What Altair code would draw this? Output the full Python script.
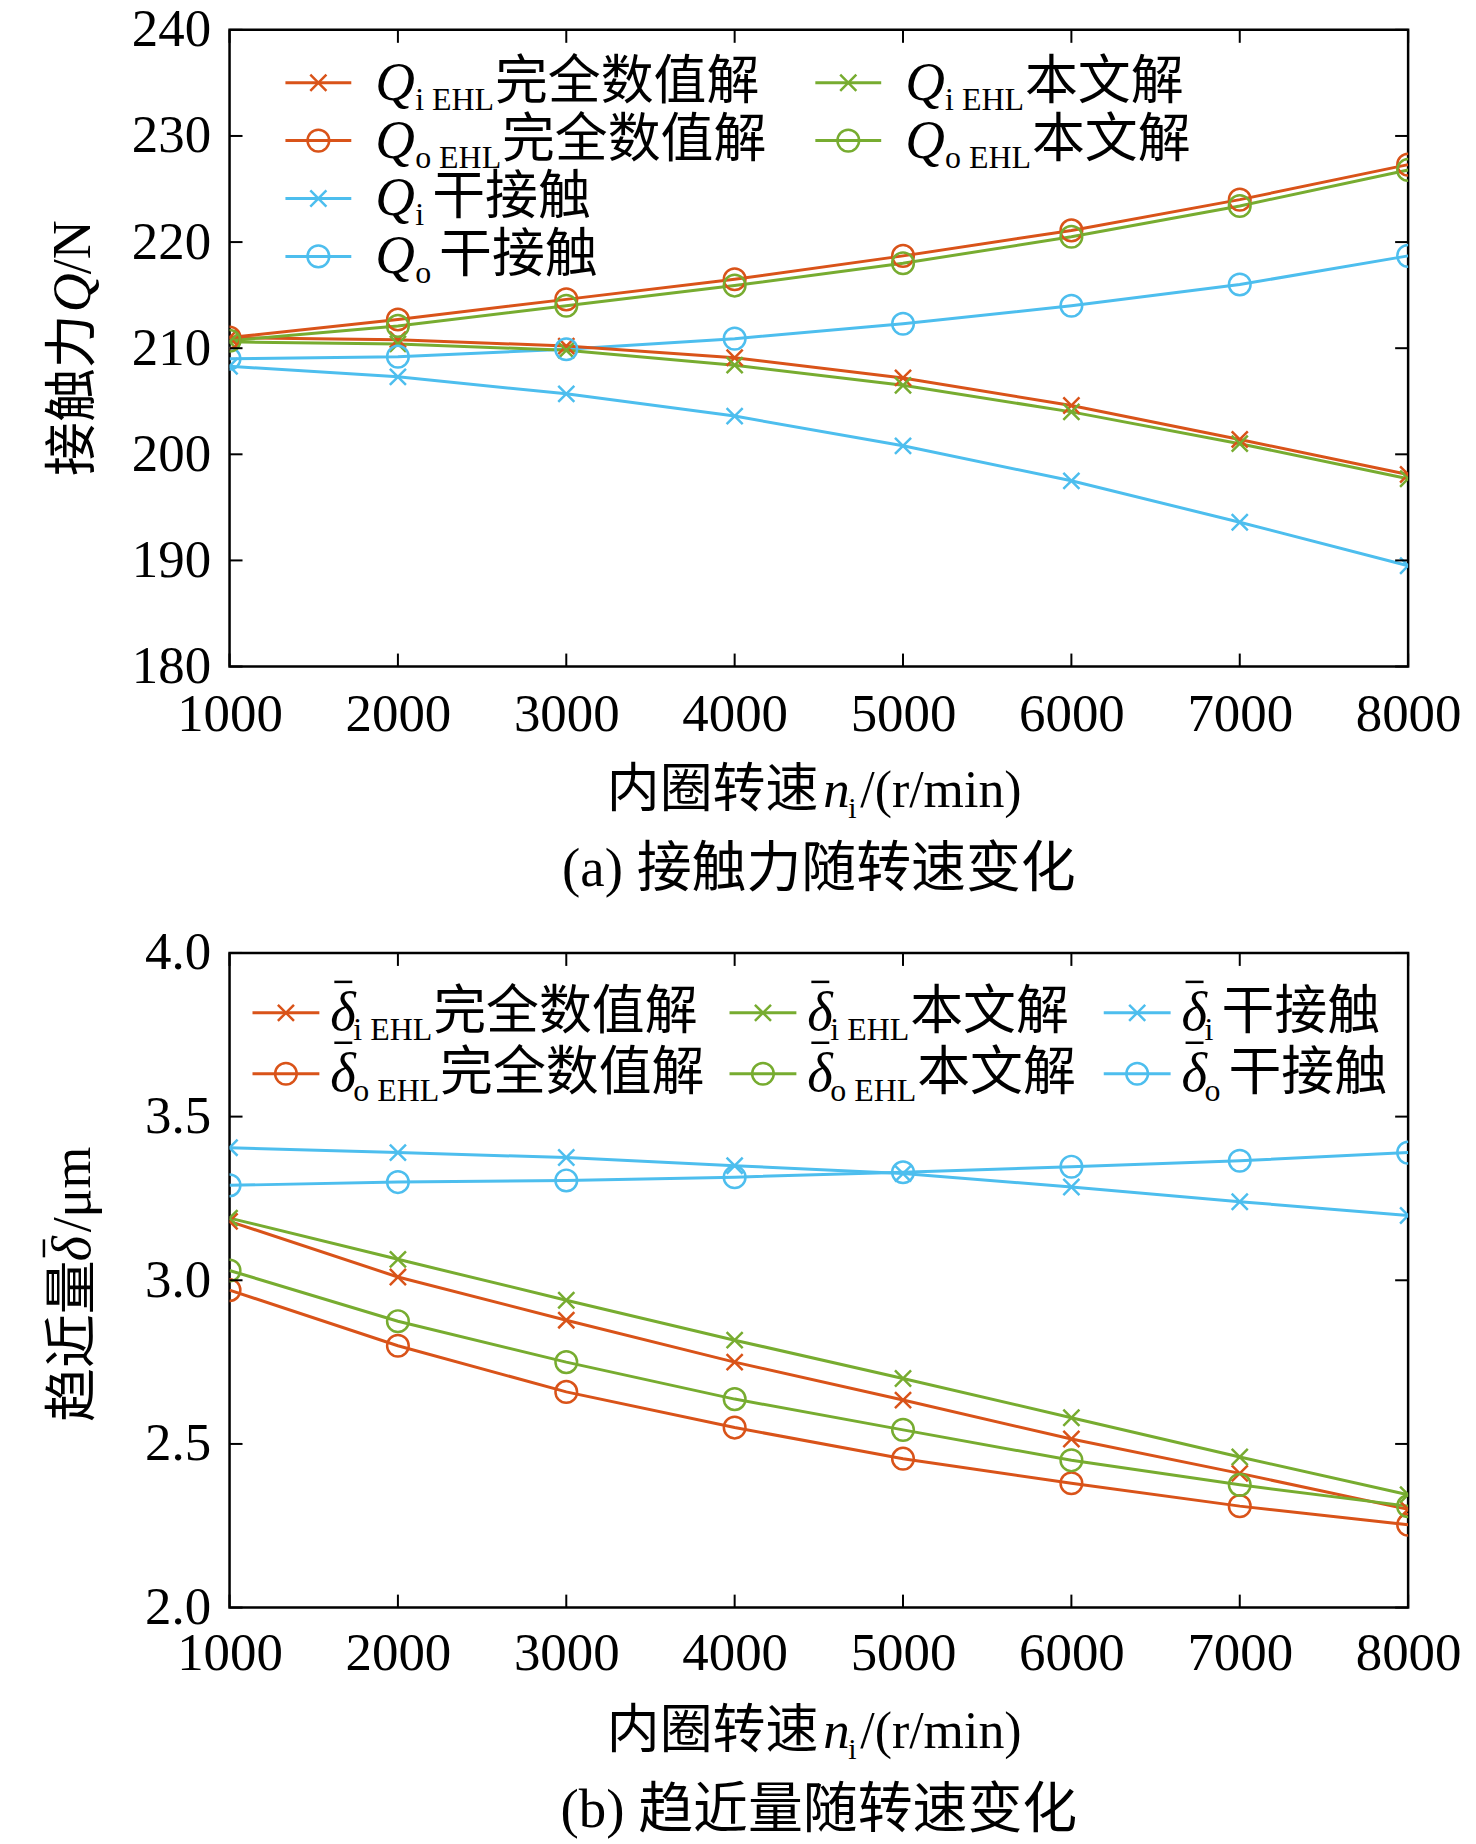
import altair as alt
import pandas as pd

# ---------------- data ----------------
speed = [1000, 2000, 3000, 4000, 5000, 6000, 7000, 8000]

# (a) contact force Q / N
qi_ehl_full = [211.0, 210.8, 210.2, 209.1, 207.2, 204.6, 201.4, 198.1]
qo_ehl_full = [211.0, 212.7, 214.6, 216.5, 218.7, 221.1, 224.0, 227.3]
qi_ehl_this = [210.6, 210.4, 209.8, 208.4, 206.5, 204.0, 201.0, 197.7]
qo_ehl_this = [210.7, 212.1, 214.0, 215.9, 218.0, 220.5, 223.4, 226.8]
qi_dry = [208.3, 207.3, 205.7, 203.6, 200.8, 197.5, 193.6, 189.5]
qo_dry = [209.0, 209.2, 209.9, 210.9, 212.3, 214.0, 216.0, 218.7]

# (b) approach delta / um
di_ehl_full = [3.18, 3.01, 2.878, 2.75, 2.634, 2.515, 2.41, 2.30]
do_ehl_full = [2.97, 2.80, 2.659, 2.55, 2.455, 2.38, 2.31, 2.253]
di_ehl_this = [3.19, 3.064, 2.939, 2.817, 2.70, 2.58, 2.46, 2.345]
do_ehl_this = [3.03, 2.875, 2.75, 2.637, 2.543, 2.45, 2.375, 2.31]
di_dry = [3.405, 3.39, 3.375, 3.35, 3.326, 3.285, 3.24, 3.198]
do_dry = [3.29, 3.30, 3.305, 3.315, 3.33, 3.347, 3.365, 3.39]

yticks_a = [180, 190, 200, 210, 220, 230, 240]
yticks_b = [2.0, 2.5, 3.0, 3.5, 4.0]

# text pieces
lab_full = "完全数值解"
lab_this = "本文解"
lab_dry = "干接触"
xtitle_cjk = "内圈转速"
xtitle_rest = "/(r/min)"
caption_a = "(a) 接触力随转速变化"
caption_b = "(b) 趋近量随转速变化"
ytitle_a = ("接触力", "Q", "/N")
ytitle_b = ("趋近量", "δ", "/μm")

# ---------------- styles ----------------
FONT = "Liberation Serif, Noto Sans CJK SC"
RED, GREEN, BLUE = "#D95319", "#77AC30", "#4DBEEE"
XPATH = "M-1,-1L1,1M-1,1L1,-1"
W = 1181
HA, HB = 638, 656
SUBW = {"i EHL": 80, "o EHL": 87, "i": 17, "o": 24}
ONE = pd.DataFrame({"k": [0]})
XSIZE, OSIZE = 260, 470

series_a = [
    ("Qi_dry", qi_dry, BLUE, "x", "Q", "i", lab_dry, 0, 2),
    ("Qo_dry", qo_dry, BLUE, "o", "Q", "o", lab_dry, 0, 3),
    ("Qi_full", qi_ehl_full, RED, "x", "Q", "i EHL", lab_full, 0, 0),
    ("Qo_full", qo_ehl_full, RED, "o", "Q", "o EHL", lab_full, 0, 1),
    ("Qi_this", qi_ehl_this, GREEN, "x", "Q", "i EHL", lab_this, 1, 0),
    ("Qo_this", qo_ehl_this, GREEN, "o", "Q", "o EHL", lab_this, 1, 1),
]
series_b = [
    ("di_dry", di_dry, BLUE, "x", "δ", "i", lab_dry, 2, 0),
    ("do_dry", do_dry, BLUE, "o", "δ", "o", lab_dry, 2, 1),
    ("di_full", di_ehl_full, RED, "x", "δ", "i EHL", lab_full, 0, 0),
    ("do_full", do_ehl_full, RED, "o", "δ", "o EHL", lab_full, 0, 1),
    ("di_this", di_ehl_this, GREEN, "x", "δ", "i EHL", lab_this, 1, 0),
    ("do_this", do_ehl_this, GREEN, "o", "δ", "o EHL", lab_this, 1, 1),
]

leg_a = dict(cols=[56, 587], y0=53, dy=58, length=66, sym_off=90, sym_w=40, bar=False)
leg_b = dict(cols=[23, 501, 876], y0=60, dy=61, length=67, sym_off=78, sym_w=23, bar=True)


def txt(x, y, s, **kw):
    props = dict(font=FONT, color="black", align="left", text=s)
    props.update(kw)
    return alt.Chart(ONE).mark_text(**props).encode(x=alt.value(x), y=alt.value(y))


def hbar(x1, x2, y, color="black", w=2.5):
    return alt.Chart(ONE).mark_rule(color=color, strokeWidth=w).encode(
        x=alt.value(x1), x2=alt.value(x2), y=alt.value(y))


def vbar(x, y1, y2, color="black", w=2.5):
    return alt.Chart(ONE).mark_rule(color=color, strokeWidth=w).encode(
        x=alt.value(x), y=alt.value(y1), y2=alt.value(y2))


def marker(x, y, color, mk):
    if mk == "x":
        m = alt.Chart(ONE).mark_point(shape=XPATH, size=XSIZE, filled=False, strokeWidth=2.5,
                                      opacity=1, color=color)
    else:
        m = alt.Chart(ONE).mark_point(shape="circle", size=OSIZE, filled=False, strokeWidth=2.5,
                                      opacity=1, color=color)
    return m.encode(x=alt.value(x), y=alt.value(y))


def make_panel(series, ydom, ytick_vals, yfmt, H, leg, ytitle, ytitle_pos, caption, xlab_pad):
    rows = []
    for name, vals, color, mk, *_ in series:
        for s, v in zip(speed, vals):
            rows.append(dict(speed=s, value=v, series=name, color=color, marker=mk))
    df = pd.DataFrame(rows)
    xs = alt.Scale(domain=[1000, 8000], nice=False, zero=False)
    ys = alt.Scale(domain=ydom, nice=False, zero=False)
    xax = alt.Axis(values=speed, format="d", labelPadding=xlab_pad)
    yax = alt.Axis(values=ytick_vals, format=yfmt, labelPadding=19)

    def X(f="speed:Q"):
        return alt.X(f, scale=xs, title=None, axis=xax)

    def Y(f="value:Q"):
        return alt.Y(f, scale=ys, title=None, axis=yax)

    base = alt.Chart(df)
    lines = base.mark_line(strokeWidth=3, clip=True).encode(
        x=X(), y=Y(), color=alt.Color("color:N", scale=None), detail="series:N",
    )
    crosses = base.transform_filter(alt.datum.marker == "x").mark_point(
        shape=XPATH, size=XSIZE, filled=False, strokeWidth=2.5, clip=True, opacity=1
    ).encode(x=X(), y=Y(), color=alt.Color("color:N", scale=None))
    circles = base.transform_filter(alt.datum.marker == "o").mark_point(
        shape="circle", size=OSIZE, filled=False, strokeWidth=2.5, clip=True, opacity=1
    ).encode(x=X(), y=Y(), color=alt.Color("color:N", scale=None))

    # inward ticks on all four sides
    tx = alt.Chart(pd.DataFrame({"speed": speed}))
    ty = alt.Chart(pd.DataFrame({"value": ytick_vals}))
    layers = [lines, crosses, circles]
    layers.append(tx.mark_rule(color="black", strokeWidth=2).encode(
        x=X(), y=alt.value(H), y2=alt.value(H - 13)))
    layers.append(tx.mark_rule(color="black", strokeWidth=2).encode(
        x=X(), y=alt.value(0), y2=alt.value(13)))
    layers.append(ty.mark_rule(color="black", strokeWidth=2).encode(
        y=Y(), x=alt.value(0), x2=alt.value(13)))
    layers.append(ty.mark_rule(color="black", strokeWidth=2).encode(
        y=Y(), x=alt.value(W - 13), x2=alt.value(W)))

    # legend
    for name, vals, color, mk, sym, sub, cjk, col, row in series:
        x0 = leg["cols"][col]
        y0 = leg["y0"] + row * leg["dy"]
        layers.append(hbar(x0, x0 + leg["length"], y0, color=color, w=3))
        layers.append(marker(x0 + leg["length"] / 2, y0, color, mk))
        sx = x0 + leg["sym_off"]
        layers.append(txt(sx, y0, sym, fontSize=55, fontStyle="italic", baseline="middle"))
        if leg["bar"]:
            layers.append(hbar(sx + 4, sx + 22, y0 - 31, w=2.5))
        subx = sx + leg["sym_w"]
        layers.append(txt(subx, y0 + 27, sub, fontSize=32, baseline="alphabetic"))
        layers.append(txt(subx + SUBW[sub], y0, cjk, fontSize=53, baseline="middle"))

    # x-axis title with italic n and subscript i
    ty_ = H + 125
    layers.append(txt(378, ty_, xtitle_cjk, fontSize=53, baseline="middle"))
    layers.append(txt(595, ty_, "n", fontSize=53, fontStyle="italic", baseline="middle"))
    layers.append(txt(620, ty_ + 27, "i", fontSize=30, baseline="alphabetic"))
    layers.append(txt(632, ty_, xtitle_rest, fontSize=52, baseline="middle"))

    # y-axis title (rotated)
    yx = -156
    layers.append(txt(yx, ytitle_pos[0], ytitle[0], fontSize=54, angle=270, baseline="middle"))
    layers.append(txt(yx, ytitle_pos[1], ytitle[1], fontSize=54, angle=270,
                      fontStyle="italic", baseline="middle"))
    layers.append(txt(yx, ytitle_pos[2], ytitle[2], fontSize=54, angle=270, baseline="middle"))
    if leg["bar"]:
        layers.append(vbar(yx - 30, ytitle_pos[1] - 4, ytitle_pos[1] - 22, w=2.5))

    layers.append(txt(W / 2, H + 203, caption, fontSize=55, baseline="middle", align="center"))

    return alt.layer(*layers).properties(width=W, height=H)


pa = make_panel(series_a, [180, 240], yticks_a, "d", HA, leg_a, ytitle_a, (447, 283, 245),
                caption_a, 22)
pb = make_panel(series_b, [2.0, 4.0], yticks_b, ".1f", HB, leg_b, ytitle_b, (470, 309, 280),
                caption_b, 20)

chart = alt.vconcat(pa, pb, spacing=287, bounds="flush").properties(
    padding={"left": 33, "top": -8, "right": 5, "bottom": 5},
    background="white",
).configure_view(
    stroke="black", strokeWidth=2.5
).configure_axis(
    ticks=False, tickSize=0, domain=False, grid=False,
    labelFont="Liberation Serif", labelFontSize=53, labelColor="black",
    labelFlush=False, labelOverlap=False,
)

chart.save("out.html", embed_options={"renderer": "svg", "actions": False})
